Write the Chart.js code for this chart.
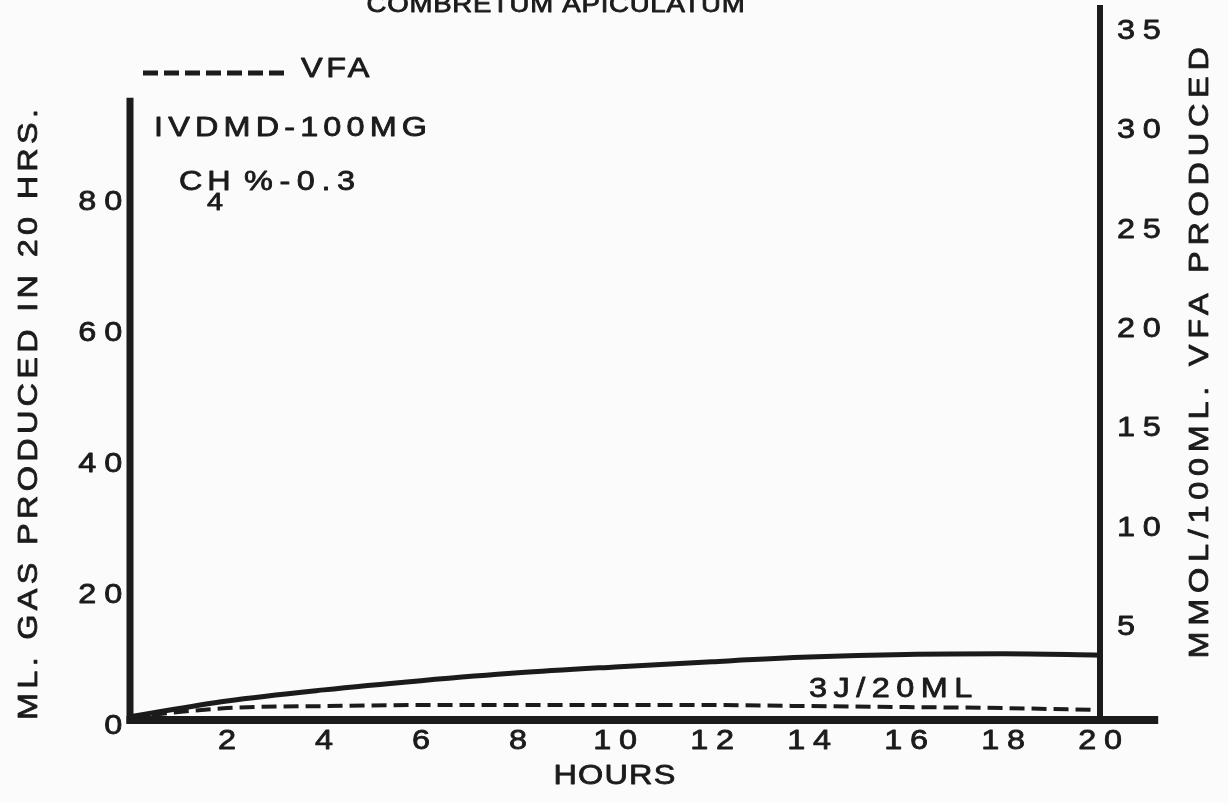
<!DOCTYPE html>
<html>
<head>
<meta charset="utf-8">
<title>Combretum apiculatum</title>
<script src="https://cdn.jsdelivr.net/npm/chart.js@4.4.1/dist/chart.umd.min.js"></script>
<style>
  html, body { margin: 0; padding: 0; background: #fbfbfb; }
  #wrap { width: 1228px; height: 803px; }
  canvas { display: block; }
</style>
</head>
<body>
<div id="wrap"><canvas id="c" width="1228" height="803"></canvas></div>
<script>
// Incubation readings, every two hours
const HOURS    = [0, 2, 4, 6, 8, 10, 12, 14, 16, 18, 20];
const GAS_ML   = [0.5, 2.9, 4.6, 6.0, 7.2, 8.1, 8.9, 9.6, 10.0, 10.1, 9.9];
const VFA_MMOL = [0.15, 0.6, 0.7, 0.75, 0.75, 0.75, 0.75, 0.7, 0.65, 0.6, 0.5];

// Tick labels
const HOUR_TICKS = [2, 4, 6, 8, 10, 12, 14, 16, 18, 20];
const GAS_TICKS  = [0, 20, 40, 60, 80];
const VFA_TICKS  = [5, 10, 15, 20, 25, 30, 35];

// Texts
const TITLE          = 'COMBRETUM APICULATUM';
const GAS_AXIS_TITLE = 'ML. GAS PRODUCED IN 20 HRS.';
const VFA_AXIS_TITLE = 'MMOL/100ML. VFA PRODUCED';
const HOURS_TITLE    = 'HOURS';
const LEGEND_VFA     = 'VFA';
const NOTE_IVDMD     = 'IVDMD-100MG';
const NOTE_CH        = 'CH';
const NOTE_CH_SUB    = '4';
const NOTE_CH_VALUE  = '%-0.3';
const CURVE_LABEL    = '3J/20ML';

// Axis extents
const X_MAX = 20, X_BASELINE_END = 21.2;
const GAS_MAX = 108.7, GAS_AXIS_TOP = 95;
const VFA_MAX = 35.83;
const CURVE_LABEL_AT = { x: 14.0, y: 3.5 };

const INK = '#1b1b1b';
const FONT = '"Liberation Sans", Arial, Helvetica, sans-serif';
const TEXT_WEIGHT = 0.8;    // extra stroke around glyphs
const TEXT_STRETCH = 1.2;   // wide lettering
Chart.defaults.font.family = FONT;
Chart.defaults.color = INK;

// letter spacing per axis
const SPACING = {
  x:  { ticks: 6.5, title: 1 },
  y:  { ticks: 6.5, title: 3.6 },
  y2: { ticks: 6.5, title: 0 }
};

// draws text through fn with every glyph widened and slightly emboldened
function wideText(ctx, fn) {
  const proto = Object.getPrototypeOf(ctx);
  ctx.fillText = function (t, x, y, w) {
    this.save();
    this.translate(x, y);
    this.scale(TEXT_STRETCH, 1);
    proto.fillText.call(this, t, 0, 0, w);
    this.setLineDash([]);
    this.lineWidth = TEXT_WEIGHT;
    this.lineJoin = 'round';
    this.strokeStyle = this.fillStyle;
    proto.strokeText.call(this, t, 0, 0, w);
    this.restore();
  };
  try { fn(); } finally { delete ctx.fillText; }
}

function text(ctx, s, x, y, size, spacing, align, baseline, rot) {
  ctx.save();
  ctx.font = size + 'px ' + FONT;
  ctx.letterSpacing = spacing + 'px';
  ctx.fillStyle = INK;
  ctx.textAlign = align || 'left';
  ctx.textBaseline = baseline || 'alphabetic';
  ctx.translate(x, y);
  if (rot) ctx.rotate(rot);
  wideText(ctx, () => ctx.fillText(s, 0, 0));
  ctx.restore();
}

const spacedText = {
  id: 'spacedText',
  beforeDraw(chart) {
    Object.values(chart.scales).forEach(sc => {
      if (sc._spaced) return;
      const sp = SPACING[sc.id] || { ticks: 0, title: 0 };
      const drawLabels = sc.drawLabels, drawTitle = sc.drawTitle;
      sc.drawLabels = function (area) {
        const c = this.ctx;
        c.save(); c.letterSpacing = sp.ticks + 'px';
        wideText(c, () => drawLabels.call(this, area));
        c.restore();
      };
      sc.drawTitle = function () {
        const c = this.ctx;
        c.save(); c.letterSpacing = sp.title + 'px';
        wideText(c, () => drawTitle.call(this));
        c.restore();
      };
      sc._spaced = true;
    });
  }
};

// left and bottom axis strokes, with their own extents
const frame = {
  id: 'frame',
  beforeDatasetsDraw(chart) {
    const { ctx, scales: { x, y } } = chart;
    const x0 = x.getPixelForValue(0), y0 = y.getPixelForValue(0);
    ctx.save();
    ctx.strokeStyle = INK;
    ctx.lineCap = 'butt';
    ctx.lineWidth = 8;
    ctx.beginPath();
    ctx.moveTo(x0 - 3.5, y0);
    ctx.lineTo(x.getPixelForValue(X_BASELINE_END), y0);
    ctx.stroke();
    ctx.lineWidth = 7;
    ctx.beginPath();
    ctx.moveTo(x0, y0 + 4);
    ctx.lineTo(x0, y.getPixelForValue(GAS_AXIS_TOP));
    ctx.stroke();
    ctx.restore();
  }
};

// title, key and notes
const notes = {
  id: 'notes',
  afterDraw(chart) {
    const { ctx, scales: { x, y } } = chart;
    text(ctx, TITLE, 556, 12, 23, 0.6, 'center');

    ctx.save();
    ctx.strokeStyle = INK;
    ctx.lineWidth = 5;
    ctx.setLineDash([15, 6]);
    ctx.beginPath();
    ctx.moveTo(143, 73);
    ctx.lineTo(289, 73);
    ctx.stroke();
    ctx.restore();
    text(ctx, LEGEND_VFA, 301, 77, 27, 3);

    text(ctx, NOTE_IVDMD, 154, 136, 27, 4.3);
    text(ctx, NOTE_CH, 179, 190, 27, 4);
    text(ctx, NOTE_CH_SUB, 207, 210, 24, 0);
    text(ctx, NOTE_CH_VALUE, 244, 190, 27, 5.5);

    text(ctx, CURVE_LABEL, x.getPixelForValue(CURVE_LABEL_AT.x),
         y.getPixelForValue(CURVE_LABEL_AT.y), 27, 5.4);

    text(ctx, VFA_AXIS_TITLE, 1201, 350, 27, 4.8, 'center', 'middle', -Math.PI / 2);
  }
};

const points = (vals) => HOURS.map((h, i) => ({ x: h, y: vals[i] }));

new Chart(document.getElementById('c'), {
  type: 'line',
  data: {
    datasets: [
      {
        label: 'Gas',
        data: points(GAS_ML),
        yAxisID: 'y',
        borderColor: INK,
        borderWidth: 5,
        pointRadius: 0,
        cubicInterpolationMode: 'monotone',
        clip: false
      },
      {
        label: LEGEND_VFA,
        data: points(VFA_MMOL),
        yAxisID: 'y2',
        borderColor: INK,
        borderWidth: 4,
        borderDash: [15, 7],
        pointRadius: 0,
        cubicInterpolationMode: 'monotone',
        clip: false
      }
    ]
  },
  options: {
    responsive: false,
    animation: false,
    devicePixelRatio: 1,
    layout: { padding: { top: 8, left: 0, right: 0, bottom: 0 } },
    plugins: { legend: { display: false }, tooltip: { enabled: false }, title: { display: false } },
    scales: {
      x: {
        type: 'linear',
        min: 0,
        max: X_MAX,
        grid: { display: false, drawTicks: false },
        border: { display: false },
        afterBuildTicks: (s) => { s.ticks = HOUR_TICKS.map(v => ({ value: v })); },
        afterFit: (s) => { s.height = 83; s.paddingLeft = 0; s.paddingRight = 0; },
        ticks: { autoSkip: false, maxRotation: 0, padding: 5, labelOffset: 4, color: INK, font: { size: 27 } },
        title: { display: true, text: HOURS_TITLE, color: INK, font: { size: 27 }, padding: { top: 0, bottom: 10 } }
      },
      y: {
        type: 'linear',
        position: 'left',
        min: 0,
        max: GAS_MAX,
        grid: { display: false, drawTicks: false },
        border: { display: false },
        afterBuildTicks: (s) => { s.ticks = GAS_TICKS.map(v => ({ value: v })); },
        afterFit: (s) => { s.width = 130; s.paddingTop = 0; s.paddingBottom = 0; },
        ticks: { padding: 0, labelOffset: 7, color: INK, font: { size: 27 } },
        title: { display: true, text: GAS_AXIS_TITLE, align: 'start', color: INK, font: { size: 27 }, padding: { top: 13, bottom: 0 } }
      },
      y2: {
        type: 'linear',
        position: 'right',
        min: 0,
        max: VFA_MAX,
        grid: { display: false, drawTicks: false, drawOnChartArea: false },
        border: { display: true, color: INK, width: 6 },
        afterBuildTicks: (s) => { s.ticks = VFA_TICKS.map(v => ({ value: v })); },
        afterFit: (s) => { s.width = 128; s.paddingTop = 0; s.paddingBottom = 0; },
        ticks: { padding: 17, labelOffset: 7, color: INK, font: { size: 27 } },
        title: { display: false }
      }
    }
  },
  plugins: [spacedText, frame, notes]
});
</script>
</body>
</html>
